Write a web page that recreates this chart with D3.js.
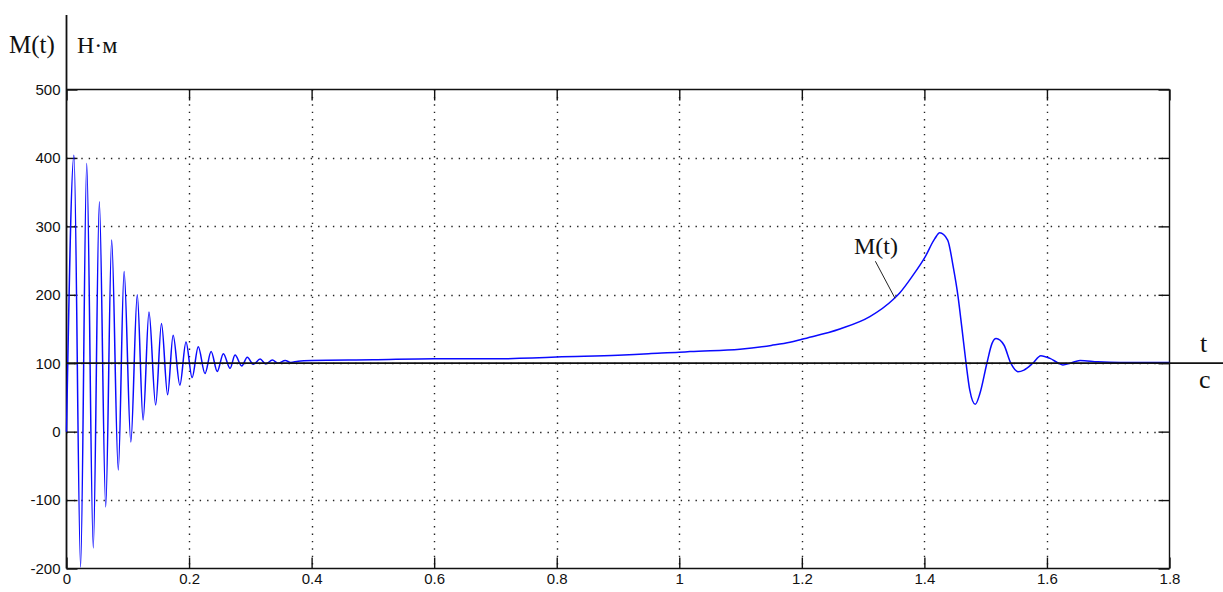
<!DOCTYPE html>
<html>
<head>
<meta charset="utf-8">
<script src="https://cdn.jsdelivr.net/npm/d3@7"></script>
<style>
  html, body { margin: 0; padding: 0; background: #fff; }
  svg { display: block; }
  .tick text { font-family: "Liberation Sans", Arial, sans-serif; font-size: 15px; fill: #111; }
  .serif { font-family: "Liberation Serif", "Times New Roman", serif; fill: #111; }
</style>
</head>
<body>
<svg id="chart" width="1223" height="592"></svg>
<script>
// Torque transient M(t), N·m, against time t, s
const timeS = [
  0, 0.0122, 0.023, 0.033, 0.0437, 0.0536, 0.064, 0.0737, 0.0845, 0.094,
  0.105, 0.1155, 0.125, 0.1346, 0.1455, 0.155, 0.165, 0.174, 0.185, 0.195,
  0.205, 0.215, 0.226, 0.236, 0.246, 0.256, 0.267, 0.275, 0.286, 0.295,
  0.305, 0.316, 0.325, 0.336, 0.345, 0.357, 0.366, 0.378, 0.40, 0.50,
  0.60, 0.70, 0.76, 0.80, 0.90, 0.95, 1.00, 1.0175, 1.099, 1.15,
  1.1807, 1.20, 1.262, 1.311, 1.349, 1.360, 1.381, 1.401, 1.417, 1.425,
  1.438, 1.447, 1.455, 1.461, 1.468, 1.474, 1.483, 1.4907, 1.502, 1.5104,
  1.517, 1.5298, 1.541, 1.5527, 1.5625, 1.577, 1.590, 1.605, 1.618, 1.626,
  1.638, 1.654, 1.683, 1.72, 1.80
];
const torqueNm = [
  0, 404, -198, 392, -170, 336, -110, 280, -56, 234,
  -15, 200, 17, 175, 39, 158, 54, 141, 68, 131,
  79, 124, 85, 117, 88, 114, 92.5, 112, 96, 108.6,
  98.4, 106, 99, 104.7, 100, 104, 101, 103, 104, 105,
  106.5, 106.5, 107.5, 109, 111.5, 114, 116, 117, 120.5, 126,
  130.5, 135, 150, 168, 193, 203, 228, 255, 282, 290.5,
  280, 241, 197, 153, 100, 61, 40, 56, 100, 129,
  136, 126.6, 100, 87.6, 90, 100, 111, 107, 100.5, 97.5,
  100, 104, 102, 101, 101
];

const xTicks = [0, 0.2, 0.4, 0.6, 0.8, 1, 1.2, 1.4, 1.6, 1.8];
const yTicks = [-200, -100, 0, 100, 200, 300, 400, 500];
const baseLevel = 100;           // level of the time axis line
const curveLabel = { text: "M(t)", t: 1.321, m: 259, fromT: 1.320, fromM: 249, toT: 1.352, toM: 195 };

const svg = d3.select("#chart");
const x = d3.scaleLinear().domain([0, 1.8]).range([66.5, 1169.5]);
const y = d3.scaleLinear().domain([-200, 500]).range([568.5, 89.5]);
const [x0, x1] = x.range();
const [yb, yt] = y.range();

// dotted grid
const grid = svg.append("g").attr("stroke", "#222").attr("stroke-width", 1.4)
  .attr("stroke-dasharray", "1.4 6");
grid.selectAll(".gx").data(xTicks.filter(d => d > 0 && d < 1.8)).join("line")
  .attr("x1", d => Math.round(x(d)) + 0.5).attr("x2", d => Math.round(x(d)) + 0.5)
  .attr("y1", yt).attr("y2", yb);
grid.selectAll(".gy").data(yTicks.filter(d => d > -200 && d < 500)).join("line")
  .attr("y1", d => Math.round(y(d)) + 0.5).attr("y2", d => Math.round(y(d)) + 0.5)
  .attr("x1", x0).attr("x2", x1);

// axes with inward ticks
const tickLen = 11;
const fmt = d => String(d);
svg.append("g").attr("transform", `translate(${x0},0)`)
  .call(d3.axisLeft(y).tickValues(yTicks).tickSize(-tickLen).tickPadding(6).tickFormat(fmt))
  .call(g => g.select(".domain").remove());
svg.append("g").attr("transform", `translate(${x1},0)`)
  .call(d3.axisRight(y).tickValues(yTicks).tickSize(-tickLen).tickFormat(""))
  .call(g => g.select(".domain").remove());
svg.append("g").attr("transform", `translate(0,${yb})`)
  .call(d3.axisBottom(x).tickValues(xTicks).tickSize(-tickLen).tickPadding(5).tickFormat(fmt))
  .call(g => g.select(".domain").remove());
svg.append("g").attr("transform", `translate(0,${yt})`)
  .call(d3.axisTop(x).tickValues(xTicks).tickSize(-tickLen).tickFormat(""))
  .call(g => g.select(".domain").remove());
svg.selectAll(".tick line").attr("stroke", "#111").attr("stroke-width", 1.4);

// frame
const frame = svg.append("g").attr("stroke", "#111").attr("fill", "none");
frame.append("line").attr("x1", x0).attr("x2", x1).attr("y1", yt).attr("y2", yt).attr("stroke-width", 1.4);
frame.append("line").attr("x1", x1).attr("x2", x1).attr("y1", yt).attr("y2", yb).attr("stroke-width", 1.4);
frame.append("line").attr("x1", x0).attr("x2", x1).attr("y1", yb).attr("y2", yb).attr("stroke-width", 1.6);
// vertical axis, extended above the plot
frame.append("line").attr("x1", x0).attr("x2", x0).attr("y1", 15).attr("y2", yb).attr("stroke-width", 1.8);

// curve
const line = d3.line().x((d, i) => x(timeS[i])).y(d => y(d)).curve(d3.curveMonotoneX);
svg.append("path").datum(torqueNm)
  .attr("fill", "none").attr("stroke", "#0a0aff").attr("stroke-width", 1.5)
  .attr("stroke-linejoin", "round").attr("d", line);

// time axis through the steady level
svg.append("line").attr("x1", x0).attr("x2", 1223)
  .attr("y1", y(baseLevel)).attr("y2", y(baseLevel))
  .attr("stroke", "#111").attr("stroke-width", 1.8);

// axis captions
svg.append("text").attr("class", "serif").attr("x", 9).attr("y", 53)
  .attr("font-size", 25).text("M(t)");
svg.append("text").attr("class", "serif").attr("x", 77).attr("y", 53)
  .attr("font-size", 24).text("Н·м");
svg.append("text").attr("class", "serif").attr("x", 1200).attr("y", y(baseLevel) - 11)
  .attr("font-size", 26).text("t");
svg.append("text").attr("class", "serif").attr("x", 1199).attr("y", y(baseLevel) + 25)
  .attr("font-size", 26).text("c");

// curve label with leader
svg.append("line")
  .attr("x1", x(curveLabel.fromT)).attr("y1", y(curveLabel.fromM))
  .attr("x2", x(curveLabel.toT)).attr("y2", y(curveLabel.toM))
  .attr("stroke", "#222").attr("stroke-width", 1);
svg.append("text").attr("class", "serif").attr("text-anchor", "middle")
  .attr("x", x(curveLabel.t)).attr("y", y(curveLabel.m))
  .attr("font-size", 24).text(curveLabel.text);
</script>
</body>
</html>
